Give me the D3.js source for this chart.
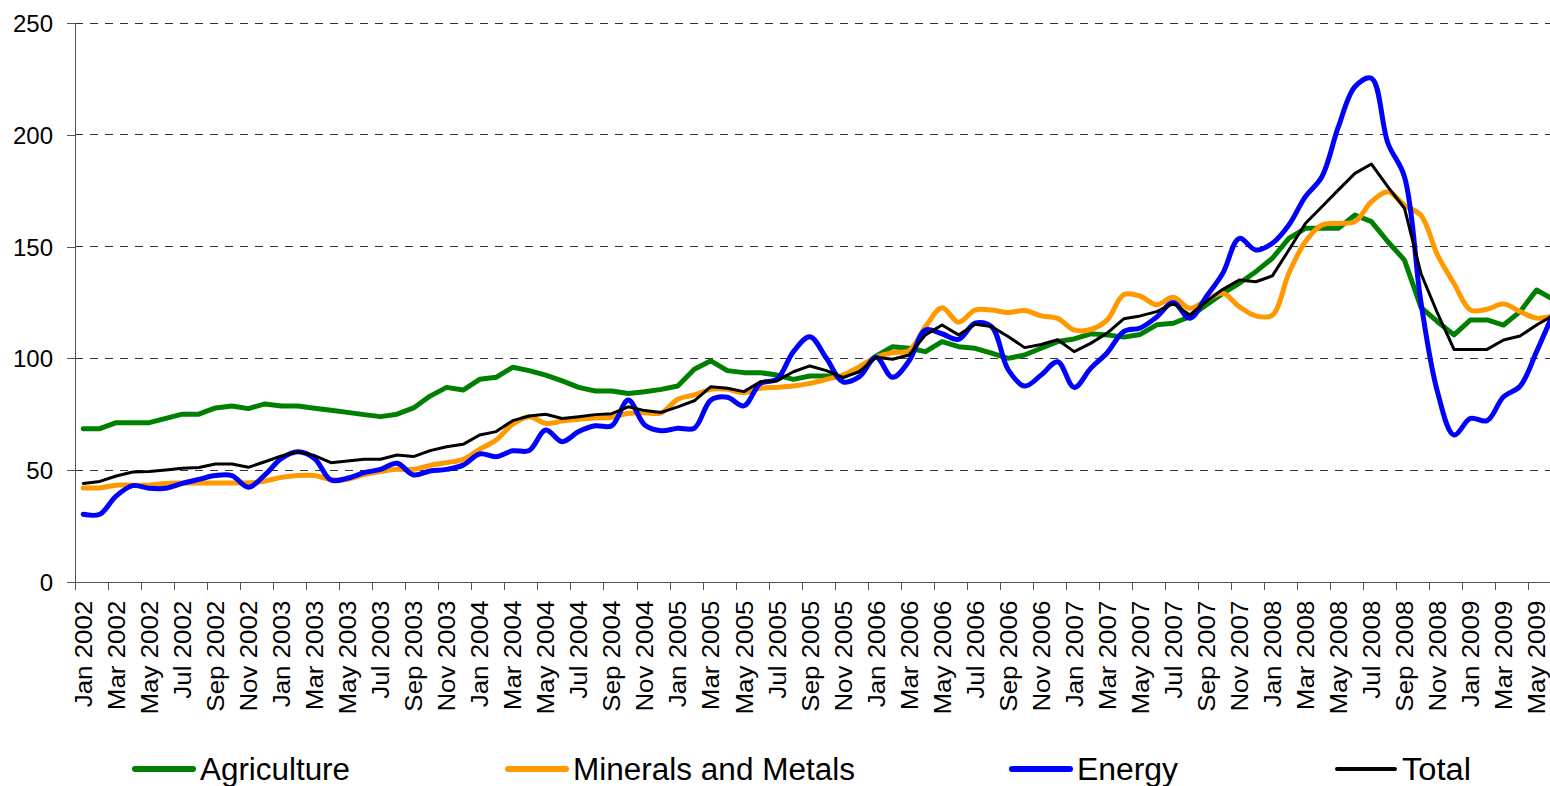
<!DOCTYPE html>
<html>
<head>
<meta charset="utf-8">
<script src="https://cdn.jsdelivr.net/npm/d3@7"></script>
<style>
  html, body { margin: 0; padding: 0; background: #fff; }
  svg { display: block; }
  text { font-family: Arial, "Liberation Sans", sans-serif; fill: #000; }
</style>
</head>
<body>
<svg id="chart" width="1550" height="786"></svg>
<script>
// ---- DATA ----
const monthNames = ["Jan","Feb","Mar","Apr","May","Jun","Jul","Aug","Sep","Oct","Nov","Dec"];
const years = [2002, 2003, 2004, 2005, 2006, 2007, 2008, 2009];
const lastMonthIndex2009 = 5; // series runs through Jun 2009
const categories = [];
years.forEach(yr => monthNames.forEach((m, i) => {
  if (yr < 2009 || i <= lastMonthIndex2009) categories.push(m + " " + yr);
}));

const agriculture = [
  68.5, 68.5, 71.2, 71.2, 71.2, 73.1, 75.0, 75.0, 77.8, 78.7, 77.5, 79.6,
  78.7, 78.7, 77.7, 76.8, 75.8, 74.8, 73.9, 75.0, 77.8, 83.1, 87.0, 85.8,
  90.6, 91.5, 96.0, 94.5, 92.5, 89.9, 87.0, 85.4, 85.4, 84.3, 85.0, 86.1,
  87.6, 95.1, 98.9, 94.5, 93.6, 93.6, 92.5, 90.6, 92.1, 92.1, 91.6, 95.1,
  101.0, 105.2, 104.5, 103.0, 107.5, 105.2, 104.5, 102.3, 100.0, 101.5, 104.5, 107.5,
  108.7, 111.0, 110.5, 109.5, 110.7, 115.0, 115.7, 118.6, 123.9, 129.1, 133.6, 138.8,
  144.8, 153.7, 158.2, 158.2, 158.2, 164.2, 161.2, 152.2, 144.0, 122.8, 116.4, 110.5,
  117.2, 117.2, 114.9, 120.9, 130.6, 126.4
];
const minerals = [
  42.0, 42.0, 43.2, 43.2, 43.2, 44.0, 44.2, 44.2, 44.2, 44.2, 44.2, 45.1,
  46.7, 47.5, 47.5, 45.8, 45.8, 48.0, 49.3, 50.3, 50.3, 52.1, 53.3, 54.8,
  59.3, 63.4, 70.5, 73.9, 70.9, 71.9, 72.7, 73.3, 73.6, 75.4, 75.6, 75.6,
  81.7, 83.6, 86.1, 86.1, 84.6, 86.6, 87.0, 87.6, 88.8, 90.6, 92.5, 96.3,
  100.5, 102.5, 103.5, 114.2, 122.6, 116.2, 121.6, 121.6, 120.5, 121.4, 119.0, 117.9,
  112.7, 112.9, 117.2, 128.5, 127.8, 124.0, 127.3, 122.4, 126.1, 129.1, 123.1, 119.0,
  119.3, 138.1, 152.2, 159.7, 160.4, 161.2, 170.1, 174.6, 168.5, 164.0, 146.3, 133.5,
  121.6, 122.0, 124.3, 120.9, 118.0, 119.0
];
const energy = [
  30.2, 30.2, 38.4, 43.0, 41.8, 41.8, 44.0, 45.8, 47.5, 47.5, 42.3, 47.8,
  55.2, 58.2, 55.2, 45.5, 46.3, 48.8, 50.3, 53.0, 47.8, 49.6, 50.3, 52.2,
  57.2, 56.0, 58.6, 58.7, 67.9, 62.7, 67.2, 69.8, 69.8, 81.3, 70.2, 67.6,
  68.7, 68.7, 81.3, 82.6, 78.7, 88.8, 90.6, 103.0, 109.7, 100.0, 89.5, 91.8,
  100.5, 91.5, 98.8, 112.7, 111.0, 108.5, 115.8, 114.2, 95.0, 87.6, 92.5, 98.5,
  87.0, 95.5, 102.5, 112.0, 113.6, 118.5, 125.0, 117.9, 127.6, 138.1, 153.7, 148.5,
  151.5, 159.7, 172.4, 181.3, 203.7, 221.6, 225.4, 196.3, 181.3, 125.0, 85.0, 65.7,
  73.1, 72.1, 82.8, 87.5, 103.0, 120.0
];
const total = [
  44.0, 44.9, 47.3, 49.1, 49.3, 50.0, 50.8, 51.1, 52.7, 52.7, 51.2, 53.7,
  56.3, 58.2, 56.5, 53.3, 54.0, 54.8, 54.8, 56.7, 56.0, 58.7, 60.4, 61.5,
  65.7, 67.2, 72.1, 74.2, 75.0, 73.1, 73.9, 74.8, 75.2, 78.3, 76.6, 75.8,
  78.3, 81.0, 87.3, 86.6, 85.1, 89.5, 89.9, 94.0, 96.6, 94.5, 91.5, 94.0,
  100.5, 99.6, 101.5, 110.5, 114.9, 110.5, 115.3, 114.2, 109.8, 104.8, 106.2, 108.3,
  103.0, 106.7, 111.3, 117.7, 119.0, 120.9, 124.6, 119.4, 125.4, 130.9, 135.1, 134.3,
  136.9, 148.5, 160.4, 167.9, 175.4, 182.8, 187.0, 176.8, 167.2, 138.0, 120.2, 104.0,
  104.0, 104.0, 108.2, 110.0, 114.9, 119.2
];
const yTicks = [0, 50, 100, 150, 200, 250];
const seriesNames = ["Agriculture", "Minerals and Metals", "Energy", "Total"];

// ---- CHART ----
(function () {
const svg = d3.select("#chart");
const plotLeft = 75, plotTop = 23.3, plotBottom = 581.7, step = 16.515;
const plotRight = plotLeft + categories.length * step;

const x = d3.scaleBand().domain(categories).range([plotLeft, plotRight]).padding(0);
const xIdx = d3.scaleLinear().domain([0, categories.length]).range([plotLeft, plotRight]);
const y = d3.scaleLinear().domain([0, 250]).range([plotBottom, plotTop]);

// gridlines
svg.append("g").selectAll("line")
  .data(yTicks.filter(t => t > 0))
  .join("line")
  .attr("x1", plotLeft).attr("x2", 1560)
  .attr("y1", d => y(d)).attr("y2", d => y(d))
  .attr("stroke", "#333").attr("stroke-width", 1)
  .attr("stroke-dasharray", "8,7")
  .attr("shape-rendering", "crispEdges");

// y axis
const yAxis = svg.append("g").attr("transform", `translate(${plotLeft},0)`)
  .call(d3.axisLeft(y).tickValues(yTicks).tickSize(8).tickPadding(14));
yAxis.select(".domain").attr("stroke", "#555").attr("shape-rendering", "crispEdges");
yAxis.selectAll(".tick line").attr("stroke", "#555").attr("shape-rendering", "crispEdges");
yAxis.selectAll("text").style("font-size", "24px").attr("dy", "0.36em");

// x axis ticks (boundaries every 2 months)
const xTickAxis = svg.append("g").attr("transform", `translate(0,${plotBottom})`)
  .call(d3.axisBottom(xIdx).tickValues(d3.range(0, categories.length, 2)).tickSize(8).tickSizeOuter(0).tickFormat(""));
xTickAxis.select(".domain").attr("stroke", "#555").attr("shape-rendering", "crispEdges");
xTickAxis.selectAll(".tick line").attr("stroke", "#555").attr("shape-rendering", "crispEdges");

// x labels (slightly stretched along their length, as in the reference)
const stretch = 1.08;
const xLab = svg.append("g").attr("transform", `translate(0,${plotBottom})`)
  .call(d3.axisBottom(x).tickValues(categories.filter((c, i) => i % 2 === 0)).tickSize(0));
xLab.select(".domain").remove();
xLab.selectAll("text")
  .style("font-size", "24px")
  .attr("transform", `rotate(-90) scale(${stretch},1)`)
  .attr("x", -19 / stretch).attr("y", 0).attr("dy", "0.36em")
  .style("text-anchor", "end");

// lines
const seriesData = [
  { name: seriesNames[0], values: agriculture, color: "#008000", width: 5, curve: d3.curveLinear },
  { name: seriesNames[1], values: minerals, color: "#FF9900", width: 5, curve: d3.curveCatmullRom.alpha(0.5) },
  { name: seriesNames[2], values: energy, color: "#0000FF", width: 5, curve: d3.curveCatmullRom.alpha(0.5) },
  { name: seriesNames[3], values: total, color: "#000000", width: 3, curve: d3.curveLinear }
];

seriesData.forEach(s => {
  const line = d3.line()
    .x((d, i) => x(categories[i]) + x.bandwidth() / 2)
    .y(d => y(d))
    .curve(s.curve);
  svg.append("path")
    .datum(s.values)
    .attr("d", line)
    .attr("fill", "none")
    .attr("stroke", s.color)
    .attr("stroke-width", s.width)
    .attr("stroke-linejoin", "round")
    .attr("stroke-linecap", "round");
});

// legend
const legendX = [135, 508, 1012, 1337];
const legendTextW = [150, 282, 101, 69];
const lg = svg.append("g").selectAll("g").data(seriesData).join("g")
  .attr("transform", (d, i) => `translate(${legendX[i]},769)`);
lg.append("line").attr("x1", 0).attr("x2", 58).attr("y1", 0).attr("y2", 0)
  .attr("stroke", d => d.color).attr("stroke-width", d => d.width === 3 ? 4 : 6)
  .attr("stroke-linecap", "round");
lg.append("text").attr("x", 65).attr("y", 10.5)
  .style("font-size", "31px")
  .attr("textLength", (d, i) => legendTextW[i])
  .attr("lengthAdjust", "spacingAndGlyphs")
  .text(d => d.name);
})();
</script>
</body>
</html>
